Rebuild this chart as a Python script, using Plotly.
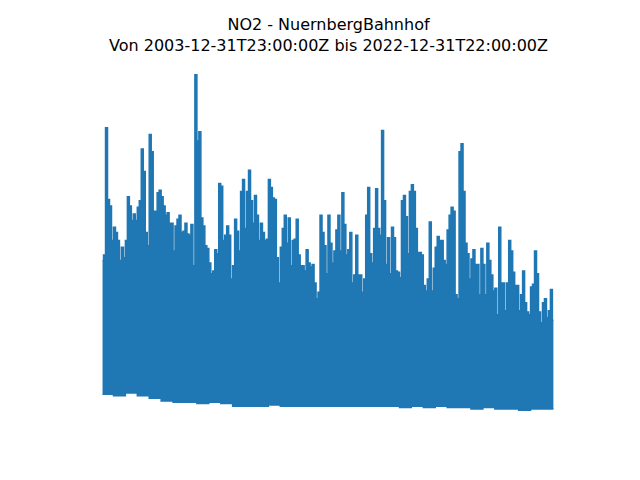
import numpy as np
import pandas as pd
import plotly.graph_objects as go

# NO2 hourly series at Nürnberg Bahnhof, summarised per month (upper envelope, µg/m³)
start = "2003-12-31T23:00:00"
end = "2022-12-31T22:00:00"
monthly_max = [
    113, 117, 213, 159, 154, 128, 138, 134, 128, 113,
    123, 115, 128, 161, 154, 143, 148, 143, 153, 158,
    197, 180, 134, 124, 208, 195, 150, 150, 164, 166,
    161, 154, 147, 149, 141, 141, 120, 139, 144, 147,
    134, 135, 141, 133, 132, 140, 109, 253, 203, 210,
    145, 139, 124, 122, 111, 103, 105, 121, 118, 171,
    169, 128, 132, 139, 132, 99, 109, 144, 135, 120,
    165, 174, 137, 165, 181, 158, 141, 162, 147, 128,
    141, 134, 128, 129, 174, 168, 160, 159, 115, 96,
    123, 137, 147, 126, 145, 109, 128, 129, 144, 117,
    109, 109, 105, 121, 111, 108, 110, 96, 84, 89,
    147, 134, 124, 103, 147, 126, 111, 120, 136, 147,
    120, 164, 140, 117, 121, 134, 96, 102, 132, 102,
    102, 89, 99, 147, 168, 118, 111, 137, 167, 137,
    132, 211, 158, 110, 130, 103, 138, 130, 105, 104,
    100, 158, 162, 146, 118, 165, 170, 165, 137, 119,
    119, 117, 94, 90, 99, 142, 90, 107, 123, 131,
    128, 128, 113, 110, 136, 147, 153, 150, 87, 84,
    195, 201, 165, 126, 118, 99, 114, 121, 110, 110,
    87, 122, 110, 87, 126, 113, 102, 90, 92, 72,
    138, 96, 96, 75, 96, 128, 120, 104, 94, 94,
    75, 87, 105, 81, 74, 72, 93, 95, 120, 103,
    74, 66, 81, 84, 70, 75, 91, 68,
]
# lower envelope per half-year (µg/m³)
halfyear_min = [12, 11, 13, 11, 9, 7, 6, 6, 5, 6, 5, 3, 3, 3, 4, 3, 3, 3, 3,
                3, 3, 3, 3, 3, 3, 2, 3, 2, 3, 2, 2, 1, 2, 1, 1, 0, 1, 1]

n = len(monthly_max)
dates = pd.date_range("2004-01-01", "2022-12-31", periods=n)
lower = np.repeat(halfyear_min, 6)[:n]
upper = np.array(monthly_max)

color = "#1f77b4"
fig = go.Figure()
fig.add_trace(go.Scatter(x=dates, y=lower, mode="lines",
                         line=dict(color=color, width=1.5, shape="hvh"), hoverinfo="skip"))
fig.add_trace(go.Scatter(x=dates, y=upper, mode="lines", fill="tonexty",
                         fillcolor=color, line=dict(color=color, width=1.5, shape="hvh")))

t0, t1 = pd.Timestamp(start), pd.Timestamp(end)
span = t1 - t0
ymin, ymax = float(min(lower)), float(max(upper))
ys = ymax - ymin
fig.update_xaxes(visible=False, range=[t0 - 0.05 * span, t1 + 0.05 * span])
fig.update_yaxes(visible=False, range=[ymin - 0.05 * ys, ymax + 0.05 * ys])

# page body has an 8px margin: figure origin sits at (8, 8)
plot_h = 427.2 - 57.6
font = dict(family="DejaVu Sans", size=16, color="black")
fig.add_annotation(text="NO2 - NuernbergBahnhof<br>Von 2003-12-31T23:00:00Z bis 2022-12-31T22:00:00Z",
                   xref="paper", yref="paper", x=0.5, y=(427.2 - 34.7) / plot_h,
                   xanchor="center", yanchor="middle", showarrow=False, font=font)

fig.update_layout(width=624, height=464, showlegend=False,
                  margin=dict(l=72, r=56, t=49.6, b=44.8),
                  paper_bgcolor="white", plot_bgcolor="white")
fig.write_html("out.html")
